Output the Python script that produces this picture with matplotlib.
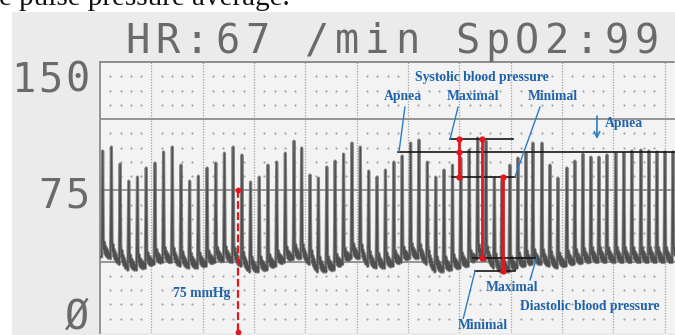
import numpy as np
import matplotlib
matplotlib.use('Agg')
import matplotlib.pyplot as plt

# beat times in seconds
beat_times = [0.26, 1.11, 1.96, 2.80, 3.65, 4.50, 5.35, 6.19, 7.04, 7.89, 8.73, 9.58,
              10.43, 11.28, 12.12, 12.97, 13.82, 14.66, 15.51, 16.36, 17.21, 18.05, 18.90,
              19.64, 20.46, 21.27, 22.09, 22.90, 23.72, 24.54, 25.35, 26.17, 26.98, 27.80,
              28.62, 29.43, 30.25, 31.06, 31.88, 32.70, 33.51, 34.33, 35.14, 35.96, 36.78,
              37.59, 38.41,
              39.14, 39.92, 40.70, 41.48, 42.16, 43.04, 43.82, 44.60, 45.47, 46.25, 47.03,
              47.81, 48.59, 49.37, 50.24, 51.02, 51.80, 52.68, 53.46, 54.24, 55.02, 55.80]

# peak (systolic) pressure of each beat, mmHg
systolic = [95.7, 97.8, 88.9, 79.9, 82.0, 86.8, 89.4, 95.2, 97.8, 88.3, 79.9, 82.5,
            86.8, 89.4, 94.6, 97.8, 93.6, 79.4, 82.0, 88.3, 89.9, 94.6, 100.9,
            97.3, 83.1, 81.5, 87.3, 90.4, 94.1, 99.9, 97.8, 85.2, 82.0, 85.7, 89.9,
            93.1, 99.9, 101.5, 89.9, 82.0, 85.7, 88.3, 92.0, 96.2, 102.5, 100.9,
            81.5, 80.4, 88.3, 92.0, 94.6, 99.9, 99.9, 88.3, 81.5, 86.8, 90.4, 94.1,
            92.5, 92.5, 93.6, 94.6, 94.6, 95.7, 96.2, 95.7, 95.2, 95.2, 95.2]

# trough (diastolic) pressure before each beat, mmHg
diastolic = [40, 39, 36, 33, 33, 34, 36, 37, 37, 35, 34, 34, 35, 37, 37.5, 37, 35, 32,
             32, 33, 35, 37, 38.5,
             39, 36, 32, 32, 33, 36, 39, 39, 35, 34, 34, 35, 37, 39, 39, 36, 32, 32,
             33, 34, 35, 38.5, 38,
             34, 32, 32, 34, 35, 36, 36, 35, 34, 35, 36, 36.5, 37, 37, 37, 37, 37, 37,
             37, 37, 37, 37, 37]

# annotated levels (mmHg) and times (s)
sys_max, sys_min, apnea_level = 101.9, 82.2, 95.3
dia_max, dia_min = 39.6, 32.6
ref_level = 75
t_sys_range, t_pulse_max, t_pulse_min, t_ref = 34.96, 37.23, 39.28, 13.44

W, H = 675, 335
T_END = 56.0
Y_TOP = 142.5
RISE, FALL = 0.09, 0.07
RIPPLE = [9, 4, 8, 2, 6, 1, 5, 0.5, 4, 0, 3, 0.5, 2]

BLUE_TXT = '#2063aa'
BLUE_LN = '#2b7cc6'
RED = '#e3161d'
GREY_TXT = '#6a6a6a'
MONO = 'DejaVu Sans Mono'
SERIF = 'Liberation Serif'


def px(x):
    return x / W


def py(y):
    return 1 - y / H


def build_trace(times, sys_vals, dia_vals, t_end):
    xs, ys = [0.0], [dia_vals[0]]
    n = len(times)
    for i in range(n):
        t0 = times[i]
        t1 = times[i + 1] if i + 1 < n else t_end + 1
        d0 = dia_vals[i]
        d1 = dia_vals[i + 1] if i + 1 < n else dia_vals[i]
        xs += [t0 - RISE, t0]
        ys += [d0, sys_vals[i]]
        start, stop = t0 + FALL, t1 - RISE
        k = len(RIPPLE)
        for j, off in enumerate(RIPPLE):
            f = j / k
            xs.append(start + f * (stop - start))
            ys.append(d0 + f * (d1 - d0) + off)
    return xs, ys


def draw_mono(fig, text, x_first, y_base, pitch, size):
    for i, ch in enumerate(text):
        if ch == ' ':
            continue
        fig.text(px(x_first + i * pitch), py(y_base), ch, ha='center', va='baseline',
                 family=MONO, fontsize=size, color=GREY_TXT)


def draw_grid(ax):
    for t in range(5, 60, 5):
        ax.axvline(t, color='#a0a0a0', lw=0.9, ls=(0, (1, 1.2)), zorder=1)
    for v in [37.5, 75, 112.5]:
        ax.axhline(v, color='#8e8e8e', lw=1.3, zorder=1)
    minor_t = [t for t in range(1, 56) if t % 5]
    minor_v = [7.5 * k for k in range(1, 19) if k % 5]
    tt, vv = np.meshgrid(minor_t, minor_v)
    ax.scatter(tt.ravel(), vv.ravel(), s=2.5, color='#a4a4a4', lw=0, zorder=1)


def blue_label(ax, x, y, s):
    ax.text(x, y, s, ha='center', va='center', family=SERIF, fontweight='bold',
            fontsize=9.8, color=BLUE_TXT, zorder=6)


def draw_annotations(ax):
    black = dict(color='#151515', lw=1.2, zorder=4)
    ax.plot([34.09, 40.22], [sys_max, sys_max], **black)
    ax.plot([29.02, T_END], [apnea_level, apnea_level], **black)
    ax.plot([34.28, 40.42], [sys_min, sys_min], **black)
    ax.plot([36.33, 42.56], [dia_max, dia_max], **black)
    ax.plot([36.52, 40.42], [dia_min, dia_min], **black)

    red = dict(color=RED, lw=2.0, zorder=5)
    ax.plot([t_sys_range] * 2, [sys_max, sys_min], **red)
    ax.plot([t_sys_range] * 3, [sys_max, apnea_level, sys_min], 'o', ms=3.5, color=RED, zorder=5)
    ax.plot([t_pulse_max] * 2, [sys_max, dia_max], **red)
    ax.plot([t_pulse_max] * 2, [sys_max, dia_max], 'o', ms=3.5, color=RED, zorder=5)
    ax.plot([t_pulse_min] * 2, [sys_min, dia_min], **red)
    ax.plot([t_pulse_min] * 2, [sys_min, dia_min], 'o', ms=3.5, color=RED, zorder=5)

    ax.plot([t_ref] * 2, [ref_level, 0], color=RED, lw=1.6, ls=(0, (3.5, 1.5)), zorder=5)
    ax.plot([t_ref] * 2, [ref_level, 0.3], 'o', ms=3.2, color=RED, zorder=5, clip_on=False)

    lead = dict(color=BLUE_LN, lw=1.0, zorder=5)
    ax.plot([29.70, 29.12], [118.8, apnea_level], **lead)
    ax.plot([34.87, 34.09], [118.8, sys_max], **lead)
    ax.plot([42.85, 40.42], [118.8, sys_min], **lead)
    ax.plot([42.53, 41.88], [dia_max, 27.9], **lead)
    ax.plot([36.52, 35.38], [dia_min, 7.7], **lead)
    ax.annotate('', xy=(48.4, 100.5), xytext=(48.4, 115.5),
                arrowprops=dict(arrowstyle='->', color=BLUE_LN, lw=1.2, mutation_scale=10),
                zorder=5)

    blue_label(ax, 37.2, 134.6, 'Systolic blood pressure')
    blue_label(ax, 29.5, 124.6, 'Apnea')
    blue_label(ax, 36.33, 124.6, 'Maximal')
    blue_label(ax, 44.12, 124.6, 'Minimal')
    blue_label(ax, 51.03, 110.0, 'Apnea')
    blue_label(ax, 40.12, 23.7, 'Maximal')
    blue_label(ax, 47.72, 13.7, 'Diastolic blood pressure')
    blue_label(ax, 37.3, 3.9, 'Minimal')
    blue_label(ax, 9.93, 21.0, '75 mmHg')


def main():
    fig = plt.figure(figsize=(W / 100, H / 100), dpi=100)
    fig.patch.set_facecolor('white')
    paper = plt.Rectangle((px(12), 0), 1 - px(12), py(12), transform=fig.transFigure,
                          facecolor='#ebebeb', edgecolor='none', zorder=-5)
    fig.patches.append(paper)

    fig.text(px(-1), py(5), 'e pulse pressure average.', family=SERIF, fontsize=21,
             va='baseline', ha='left', color='#111111')

    ax = fig.add_axes([px(100), py(333), px(675) - px(100), py(62) - py(333)])
    ax.set_zorder(2)
    ax.set_facecolor('#f3f3f3')
    ax.set_xlim(0, T_END)
    ax.set_ylim(0, Y_TOP)
    ax.set_xticks([])
    ax.set_yticks([])
    for side in ['bottom', 'right']:
        ax.spines[side].set_visible(False)
    ax.spines['left'].set_color('#8c8c8c')
    ax.spines['left'].set_linewidth(1.3)
    ax.spines['top'].set_color('#8c8c8c')
    ax.spines['top'].set_linewidth(1.4)
    ax.spines['top'].set_linestyle((0, (1, 1)))

    draw_grid(ax)

    xs, ys = build_trace(beat_times, systolic, diastolic, T_END)
    ax.plot(xs, ys, color='#7b7b7b', lw=2.3, alpha=0.85, zorder=3)
    ax.plot(xs, ys, color='#4f4f4f', lw=1.0, zorder=3)

    draw_annotations(ax)

    draw_mono(fig, 'HR:67 /min SpO2:99', 137, 53, 30, 29)
    draw_mono(fig, '150', 23, 92, 27, 29)
    draw_mono(fig, '75', 50, 208, 27, 29)
    draw_mono(fig, 'Ø', 77, 329, 27, 29)

    fig.savefig('out.png', dpi=100)


if __name__ == '__main__':
    main()
